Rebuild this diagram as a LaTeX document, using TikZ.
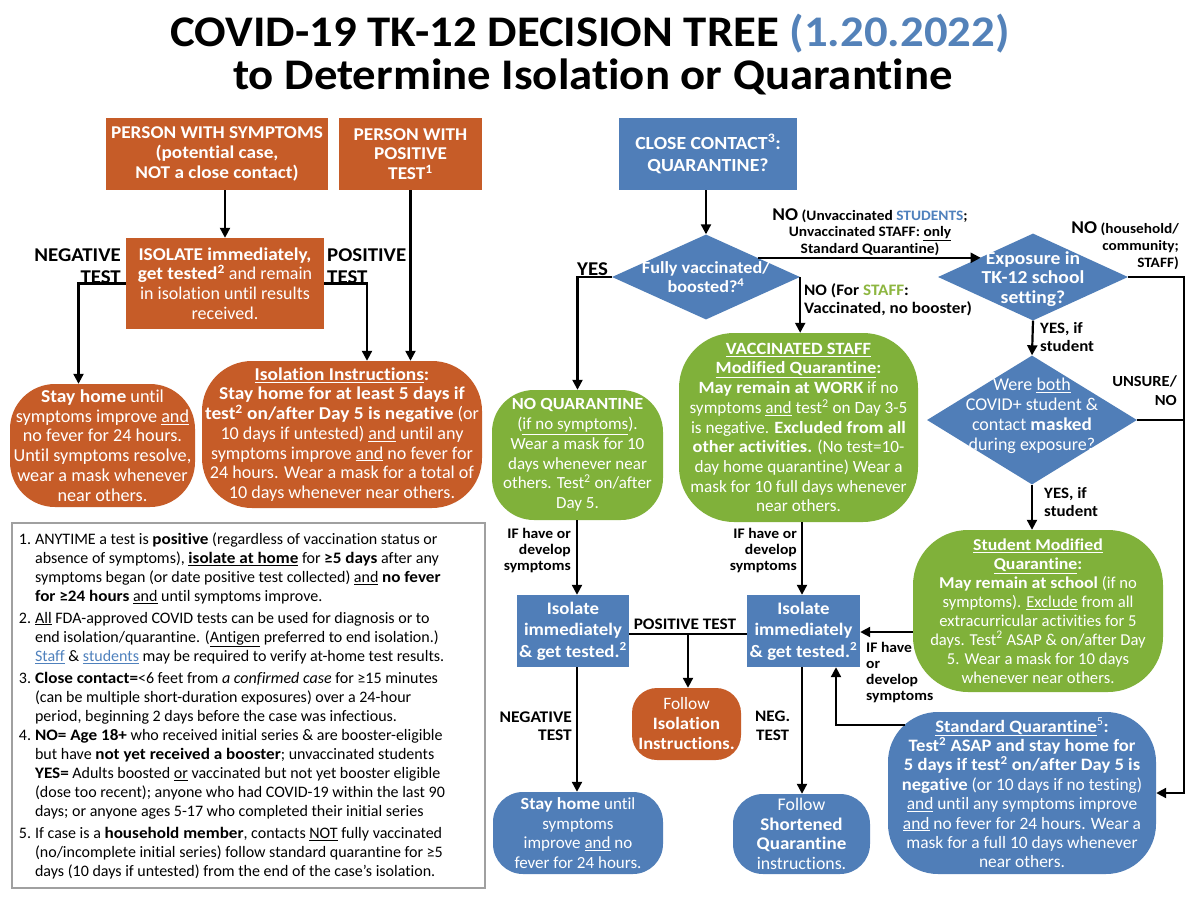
\documentclass[tikz,border=0pt]{standalone}
\usepackage{fontspec}
\setmainfont{Carlito}[Ligatures=NoCommon, BoldFeatures={FakeStretch=1.07}]
\usetikzlibrary{arrows.meta,calc,shapes.geometric}
\definecolor{corange}{RGB}{198,92,40}
\definecolor{cblue}{RGB}{80,126,184}
\definecolor{cgreen}{RGB}{128,177,58}
\definecolor{ctitle}{RGB}{84,130,185}
\definecolor{cstud}{RGB}{79,129,189}
\definecolor{cstaff}{RGB}{141,182,64}
\definecolor{cgray}{RGB}{160,160,160}
\newcommand{\setfs}[2]{\fontsize{#1}{#2}\selectfont}
\newcommand{\ul}[1]{\underline{#1}}
\begin{document}
\begin{tikzpicture}[x=1pt,y=-1pt,
  box/.style={rectangle, inner sep=0pt, align=center, text=white},
  obox/.style={box, fill=corange},
  bbox/.style={box, fill=cblue},
  gbox/.style={box, fill=cgreen},
  dia/.style={diamond, inner sep=0pt, fill=cblue},
  dtext/.style={align=center, text=white, inner sep=0pt},
  lbl/.style={inner sep=0pt, font=\bfseries\setfs{19.5}{22}},
  slbl/.style={inner sep=0pt, font=\bfseries\setfs{14.6}{16}},
  arr/.style={-{Triangle[length=10pt,width=10pt]}, line width=2.2pt},
  ln/.style={line width=2.2pt}
]
\useasboundingbox (0,0) rectangle (1200,900);
\fill[white] (0,0) rectangle (1200,900);

% Title
\node[anchor=base, inner sep=0pt, font=\bfseries\setfs{43.7}{48}] (t1) at (590,46) {COVID-19 TK-12 DECISION TREE \textcolor{ctitle}{(1.20.2022)}};
\node[anchor=base, inner sep=0pt, font=\bfseries\setfs{43.7}{48}] (t2) at (593,89) {to Determine Isolation or Quarantine};

% Left side
\node[obox, minimum width=222, minimum height=72, font=\bfseries\setfs{18}{20}] (symp) at (217,154) {PERSON WITH SYMPTOMS\\(potential case,\\NOT a close contact)};
\node[obox, minimum width=143, minimum height=72, font=\bfseries\setfs{18}{19.5}] (pos) at (410.5,154) {PERSON WITH\\POSITIVE\\TEST\textsuperscript{1}};
\node[obox, minimum width=198, minimum height=91, font=\setfs{18}{19.7}] (isol) at (225,283.5) {\textbf{ISOLATE immediately,}\\\textbf{get tested\textsuperscript{2}} and remain\\in isolation until results\\received.};
\node[obox, rounded corners=45, minimum width=185, minimum height=123, font=\setfs{18.2}{19.7}] (stayL) at (102.5,445.5) {\textbf{Stay home} until\\symptoms improve \ul{and}\\no fever for 24 hours.\\Until symptoms resolve,\\wear a mask whenever\\near others.};
\node[obox, rounded corners=50, minimum width=280, minimum height=147, font=\setfs{18.1}{19.7}] (isoinst) at (342,434.5) {\ul{\textbf{Isolation Instructions}}\textbf{:}\\\textbf{Stay home for at least 5 days if}\\\textbf{test\textsuperscript{2} on/after Day 5 is negative} (or\\10 days if untested) \ul{and} until any\\symptoms improve \ul{and} no fever for\\24 hours. Wear a mask for a total of\\10 days whenever near others.};

\draw[arr] (isol.north |- symp.south) -- (isol.north);
\draw[arr] (pos.south) -- (pos.south |- isoinst.north);
\draw[arr] (isol.west) -| ($(stayL.north)+(-24,0)$);
\draw[arr] (isol.east) -| ($(isoinst.north)+(25,0)$);
\node[lbl, anchor=south east, align=right] (lneg) at (121,284) {NEGATIVE\\TEST};
\node[lbl, anchor=south west, align=left] (lpos) at (327,284) {POSITIVE\\TEST};

% Notes
\node[draw=cgray, line width=2.5pt, minimum width=473, minimum height=365, inner sep=0pt] (notes) at (248.5,705.5) {};
\node[anchor=north west, inner sep=0pt, font=\setfs{16}{19}] (ntext) at ($(notes.north west)+(8,9)$) {%
\begin{tabular}{@{}r@{\hspace{4pt}}l@{}}
1.& ANYTIME a test is \textbf{positive} (regardless of vaccination status or\\
 & absence of symptoms), \ul{\textbf{isolate at home}} for \textbf{≥5 days} after any\\
 & symptoms began (or date positive test collected) \ul{and} \textbf{no fever}\\
 & \textbf{for ≥24 hours} \ul{and} until symptoms improve.\\[3pt]
2.& \ul{All} FDA-approved COVID tests can be used for diagnosis or to\\
 & end isolation/quarantine. (\ul{Antigen} preferred to end isolation.)\\
 & \textcolor{cstud}{\ul{Staff}} \& \textcolor{cstud}{\ul{students}} may be required to verify at-home test results.\\[3pt]
3.& \textbf{Close contact=}<6 feet from \textit{a confirmed case} for ≥15 minutes\\
 & (can be multiple short-duration exposures) over a 24-hour\\
 & period, beginning 2 days before the case was infectious.\\
4.& \textbf{NO= Age 18+} who received initial series \& are booster-eligible\\
 & but have \textbf{not yet received a booster}; unvaccinated students\\
 & \textbf{YES=} Adults boosted \ul{or} vaccinated but not yet booster eligible\\
 & (dose too recent); anyone who had COVID-19 within the last 90\\
 & days; or anyone ages 5-17 who completed their initial series\\[3pt]
5.& If case is a \textbf{household member}, contacts \ul{NOT} fully vaccinated\\
 & (no/incomplete initial series) follow standard quarantine for ≥5\\
 & days (10 days if untested) from the end of the case’s isolation.
\end{tabular}};

% Right side
\node[bbox, minimum width=178, minimum height=72, font=\bfseries\setfs{18.5}{22}] (close) at (708,154) {CLOSE CONTACT\textsuperscript{3}:\\QUARANTINE?};
\node[dia, minimum width=188, minimum height=85] (d1) at (706,277) {};
\node[dtext, font=\bfseries\setfs{17}{19}] (d1t) at (d1.center) {Fully vaccinated/\\boosted?\textsuperscript{4}};
\node[dia, minimum width=190, minimum height=87] (d2) at (1033,277) {};
\node[dtext, font=\bfseries\setfs{18.3}{19.5}] (d2t) at ($(d2.center)+(0,2)$) {Exposure in\\TK-12 school\\setting?};
\node[dia, minimum width=210, minimum height=129] (d3) at (1032,420) {};
\node[dtext, font=\setfs{18}{20}] (d3t) at ($(d3.center)+(0,-4)$) {Were \ul{both}\\COVID+ student \&\\contact \textbf{masked}\\during exposure?};

\node[gbox, rounded corners=42, minimum width=171, minimum height=130, font=\setfs{17}{19.7}] (noq) at (577.5,455) {\textbf{NO QUARANTINE}\\(\ul{if no symptoms}).\\Wear a mask for 10\\days whenever near\\others. Test\textsuperscript{2} on/after\\Day 5.};
\node[gbox, rounded corners=55, minimum width=239, minimum height=189, font=\setfs{17.2}{19.7}] (vacc) at (798.5,427.5) {\ul{\textbf{VACCINATED STAFF}}\\\ul{\textbf{Modified Quarantine}}\textbf{:}\\\textbf{May remain at WORK} if no\\symptoms \ul{and} test\textsuperscript{2} on Day 3-5\\is negative. \textbf{Excluded from all}\\\textbf{other activities.} (No test=10-\\day home quarantine) Wear a\\mask for 10 full days whenever\\near others.};
\node[gbox, rounded corners=55, minimum width=250, minimum height=162, font=\setfs{16.6}{19}] (stud) at (1038,611) {\ul{\textbf{Student Modified}}\\\ul{\textbf{Quarantine}}\textbf{:}\\\textbf{May remain at school} (if no\\symptoms). \ul{Exclude} from all\\extracurricular activities for 5\\days. Test\textsuperscript{2} ASAP \& on/after Day\\5. Wear a mask for 10 days\\whenever near others.};
\node[bbox, rounded corners=50, minimum width=268, minimum height=162, font=\setfs{17.4}{19.4}] (std) at (1022,793) {\ul{\textbf{Standard Quarantine}}\textsuperscript{5}\textbf{:}\\\textbf{Test\textsuperscript{2} ASAP and stay home for}\\\textbf{5 days if test\textsuperscript{2} on/after Day 5 is}\\\textbf{negative} (or 10 days if no testing)\\\ul{and} until any symptoms improve\\\ul{and} no fever for 24 hours. Wear a\\mask for a full 10 days whenever\\near others.};

\node[bbox, minimum width=112, minimum height=72, font=\bfseries\setfs{17.6}{21.5}] (isoL) at (573,631) {Isolate\\immediately\\\& get tested.\textsuperscript{2}};
\node[bbox, minimum width=113, minimum height=72, font=\bfseries\setfs{17.6}{21.5}] (isoR) at (803.5,631) {Isolate\\immediately\\\& get tested.\textsuperscript{2}};
\node[obox, rounded corners=25, minimum width=109, minimum height=72, font=\setfs{17.4}{20}] (follow) at (686.5,724) {Follow\\\textbf{Isolation}\\\textbf{Instructions.}};
\node[bbox, rounded corners=30, minimum width=170, minimum height=82, font=\setfs{17}{19.5}] (stayB) at (578,833) {\textbf{Stay home} until\\symptoms\\improve \ul{and} no\\fever for 24 hours.};
\node[bbox, rounded corners=30, minimum width=137, minimum height=80, font=\setfs{17.8}{19.5}] (short) at (801.5,834) {Follow\\\textbf{Shortened}\\\textbf{Quarantine}\\instructions.};

% connectors right side
\draw[arr] (close.south -| d1.north) -- (d1.north);
\draw[arr] (d1.west) -| (noq.north);
\coordinate (n1) at ($(d1.north)!0.55!(d1.east)$);
\coordinate (n2) at ($(d2.north)!0.55!(d2.west)$);
\draw[arr] (n1) -- (n1 -| n2);
\draw[arr] (d1.east) -- (d1.east |- vacc.north);
\coordinate (rr) at ($(d2.east)+(56,0)$);
\draw[arr] (d2.east) -- (rr) |- (std.east);
\draw[ln] (d3.east) -- (d3.east -| rr);
\draw[arr] (d2.south) -- (d3.north);
\draw[arr] (d3.south) -- (d3.south |- stud.north);
\draw[arr] (noq.south -| isoL.north) ++(4,0) -- ($(isoL.north)+(4,0)$);
\draw[arr] (vacc.south -| isoR.north) ++(-1.5,0) -- ($(isoR.north)+(-1.5,0)$);
\draw[ln] ($(isoL.east)+(0,3)$) -- ($(isoR.west)+(0,3)$);
\coordinate (pm) at ($(isoL.east)!0.5!(isoR.west)+(0,3)$);
\draw[arr] (pm) -- (pm |- follow.north);
\draw[arr] ($(isoL.south)+(4,0)$) -- ($(isoL.south |- stayB.north)+(4,0)$);
\draw[arr] ($(isoR.south)+(-1.5,0)$) -- ($(isoR.south |- short.north)+(-1.5,0)$);
\coordinate (sw) at ($(stud.west)+(0,21)$);
\draw[arr] (sw) -- (sw -| isoR.east);
\coordinate (sqs) at (905,725);
\draw[arr] (sqs) -| ($(isoR.south)+(32.5,0)$);

% labels right side
\node[lbl, anchor=south west] (lyes) at (577,276) {YES};
\node[slbl, align=center, font=\bfseries\setfs{14.4}{16.5}] (lno1) at (870,232) {{\setfs{18}{20}NO} (Unvaccinated \textcolor{cstud}{STUDENTS};\\Unvaccinated STAFF: \ul{only}\\Standard Quarantine)};
\node[lbl, anchor=north west, align=left, font=\bfseries\setfs{16}{18.5}] (lno2) at (804,283) {NO (For \textcolor{cstaff}{STAFF}:\\Vaccinated, no booster)};
\node[slbl, anchor=north east, align=right, font=\bfseries\setfs{14.3}{17}] (lno3) at (1179,221) {{\setfs{18}{20}NO} (household/\\community;\\STAFF)};
\node[lbl, anchor=west, align=left, font=\bfseries\setfs{15.8}{18}] (lys1) at (1040,337) {YES, if\\student};
\node[lbl, anchor=west, align=left, font=\bfseries\setfs{15.8}{18}] (lys2) at (1044,502) {YES, if\\student};
\node[lbl, anchor=north east, align=right, font=\bfseries\setfs{15.4}{19}] (lun) at (1177,375) {UNSURE/\\NO};
\node[slbl, anchor=north east, align=right] (lif1) at (571,528) {IF have or\\develop\\symptoms};
\node[slbl, anchor=north east, align=right] (lif2) at (797,528) {IF have or\\develop\\symptoms};
\node[lbl, anchor=south, font=\bfseries\setfs{16.1}{18}] (lpt) at (685,630) {POSITIVE TEST};
\node[lbl, anchor=east, align=right, font=\bfseries\setfs{16.3}{18.5}] (lnt) at (572,726) {NEGATIVE\\TEST};
\node[lbl, anchor=west, align=center, font=\bfseries\setfs{16}{18.5}] (lnt2) at (755,726) {NEG.\\TEST};
\node[slbl, anchor=north west, align=left] (lif3) at (866,642) {IF have\\or\\develop\\symptoms};
\end{tikzpicture}
\end{document}
